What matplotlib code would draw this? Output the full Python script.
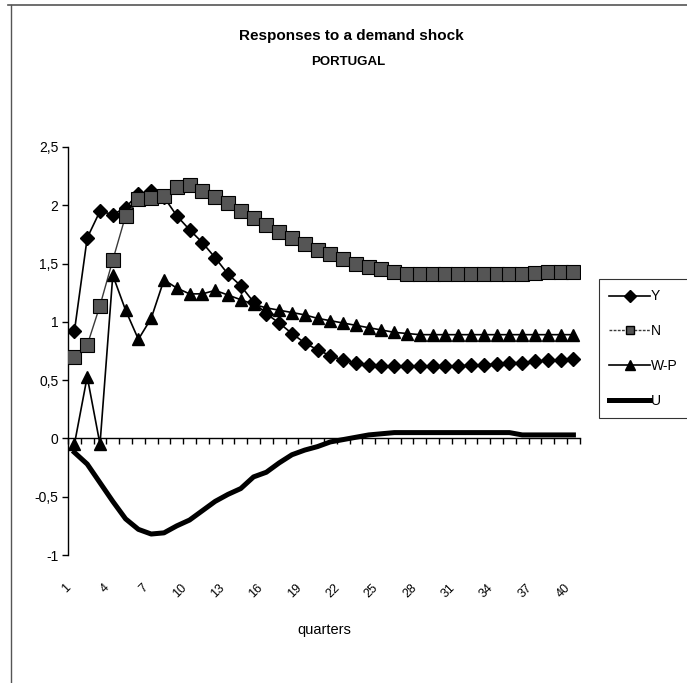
"""
Impulse responses to a demand shock, Portugal (Y, N, W-P, U over 40 quarters).
"""

import numpy as np
import matplotlib
matplotlib.use('Agg')
import matplotlib.pyplot as plt
from matplotlib.lines import Line2D
import matplotlib.transforms as mtransforms

plt.rcParams['font.family'] = ['Liberation Sans', 'DejaVu Sans']

# ---------------------------------------------------------------------------
# Data
# ---------------------------------------------------------------------------
quarters = np.arange(1, 41)

y_resp = [0.92, 1.72, 1.95, 1.92, 1.98, 2.10, 2.12, 2.07, 1.91, 1.79,
          1.68, 1.55, 1.41, 1.31, 1.17, 1.07, 0.99, 0.90, 0.82, 0.76,
          0.71, 0.67, 0.65, 0.63, 0.62, 0.62, 0.62, 0.62, 0.62, 0.62,
          0.62, 0.63, 0.63, 0.64, 0.65, 0.65, 0.66, 0.67, 0.67, 0.68]

n_resp = [0.70, 0.80, 1.14, 1.53, 1.91, 2.05, 2.06, 2.08, 2.16, 2.17,
          2.12, 2.07, 2.02, 1.95, 1.89, 1.83, 1.77, 1.72, 1.67, 1.62,
          1.58, 1.54, 1.50, 1.47, 1.45, 1.43, 1.41, 1.41, 1.41, 1.41,
          1.41, 1.41, 1.41, 1.41, 1.41, 1.41, 1.42, 1.43, 1.43, 1.43]

wp_resp = [-0.05, 0.53, -0.05, 1.40, 1.10, 0.85, 1.03, 1.36, 1.29, 1.24,
           1.24, 1.27, 1.23, 1.19, 1.15, 1.12, 1.10, 1.08, 1.06, 1.03,
           1.01, 0.99, 0.97, 0.95, 0.93, 0.91, 0.90, 0.89, 0.89, 0.89,
           0.89, 0.89, 0.89, 0.89, 0.89, 0.89, 0.89, 0.89, 0.89, 0.89]

u_resp = [-0.12, -0.22, -0.38, -0.54, -0.69, -0.78, -0.82, -0.81, -0.75, -0.70,
          -0.62, -0.54, -0.48, -0.43, -0.33, -0.29, -0.21, -0.14, -0.10, -0.07,
          -0.03, -0.01, 0.01, 0.03, 0.04, 0.05, 0.05, 0.05, 0.05, 0.05,
          0.05, 0.05, 0.05, 0.05, 0.05, 0.03, 0.03, 0.03, 0.03, 0.03]

y_ticks = [-1, -0.5, 0, 0.5, 1, 1.5, 2, 2.5]
y_ticklabels = ['-1', '-0,5', '0', '0,5', '1', '1,5', '2', '2,5']
x_labelled = quarters[::3]

# ---------------------------------------------------------------------------
# Figure
# ---------------------------------------------------------------------------
fig = plt.figure(figsize=(6.87, 6.83), dpi=100)
ax = fig.add_axes([0.099, 0.1874, 0.745, 0.5974])

ax.plot(quarters, y_resp, color='black', lw=1.2, marker='D', ms=7.5,
        mfc='black', mec='black', label='Y', zorder=3)
ax.plot(quarters, n_resp, color='#3a3a3a', lw=1.0, marker='s', ms=10,
        mfc='#555555', mec='black', mew=0.8, label='N', zorder=4)
ax.plot(quarters, wp_resp, color='black', lw=1.2, marker='^', ms=9,
        mfc='black', mec='black', label='W-P', zorder=5)
ax.plot(quarters, u_resp, color='black', lw=3.6, label='U', zorder=6)

ax.set_xlim(0.5, 40.5)
ax.set_ylim(-1, 2.5)

# axes lines: y axis on the left, category axis through zero
for side in ('top', 'right'):
    ax.spines[side].set_visible(False)
ax.spines['bottom'].set_position(('data', 0))
ax.spines['left'].set_linewidth(1.0)
ax.spines['bottom'].set_linewidth(1.0)

ax.set_yticks(y_ticks)
ax.set_yticklabels(y_ticklabels, fontsize=10)
ax.tick_params(axis='y', direction='out', length=4, width=1, pad=3)

ax.set_xticks(np.arange(0.5, 41, 1))
ax.set_xticklabels([])
ax.tick_params(axis='x', direction='out', length=4, width=1)

# category labels sit below the plot area, rotated
trans = mtransforms.blended_transform_factory(ax.transData, ax.transAxes)
for q in x_labelled:
    ax.text(q - 0.4, -0.075, str(q), transform=trans, rotation=45,
            rotation_mode='anchor', ha='right', va='center', fontsize=9)

fig.text(0.4716, 0.077, 'quarters', ha='center', va='center', fontsize=10.5)

fig.text(0.511, 0.947, 'Responses to a demand shock', ha='center',
         va='center', fontsize=11, fontweight='bold')
fig.text(0.507, 0.909, 'PORTUGAL', ha='center', va='center', fontsize=9.5,
         fontweight='bold')

# legend box to the right of the plot
handles = [
    Line2D([], [], color='black', lw=1.2, marker='D', ms=6, mfc='black'),
    Line2D([], [], color='#3a3a3a', lw=1.0, ls=(0, (2, 1)), marker='s', ms=6,
           mfc='#555555', mec='black'),
    Line2D([], [], color='black', lw=1.2, marker='^', ms=7, mfc='black'),
    Line2D([], [], color='black', lw=3.6),
]
leg = fig.legend(handles, ['Y', 'N', 'W-P', 'U'], loc='upper left',
                 bbox_to_anchor=(599 / 687, 1 - 279 / 683), fontsize=10,
                 frameon=True, fancybox=False, edgecolor='black',
                 handlelength=2.9, handletextpad=0.1, labelspacing=1.5,
                 borderpad=0.75, borderaxespad=0)
leg.get_frame().set_linewidth(0.8)

# outer chart-area border (top and left edges)
fig.add_artist(Line2D([11 / 687, 11 / 687], [0, 1 - 5 / 683],
                      color='#555555', lw=1.0, transform=fig.transFigure))
fig.add_artist(Line2D([8 / 687, 1], [1 - 5 / 683, 1 - 5 / 683],
                      color='#555555', lw=1.2, transform=fig.transFigure))

fig.savefig('out.png', dpi=100)
